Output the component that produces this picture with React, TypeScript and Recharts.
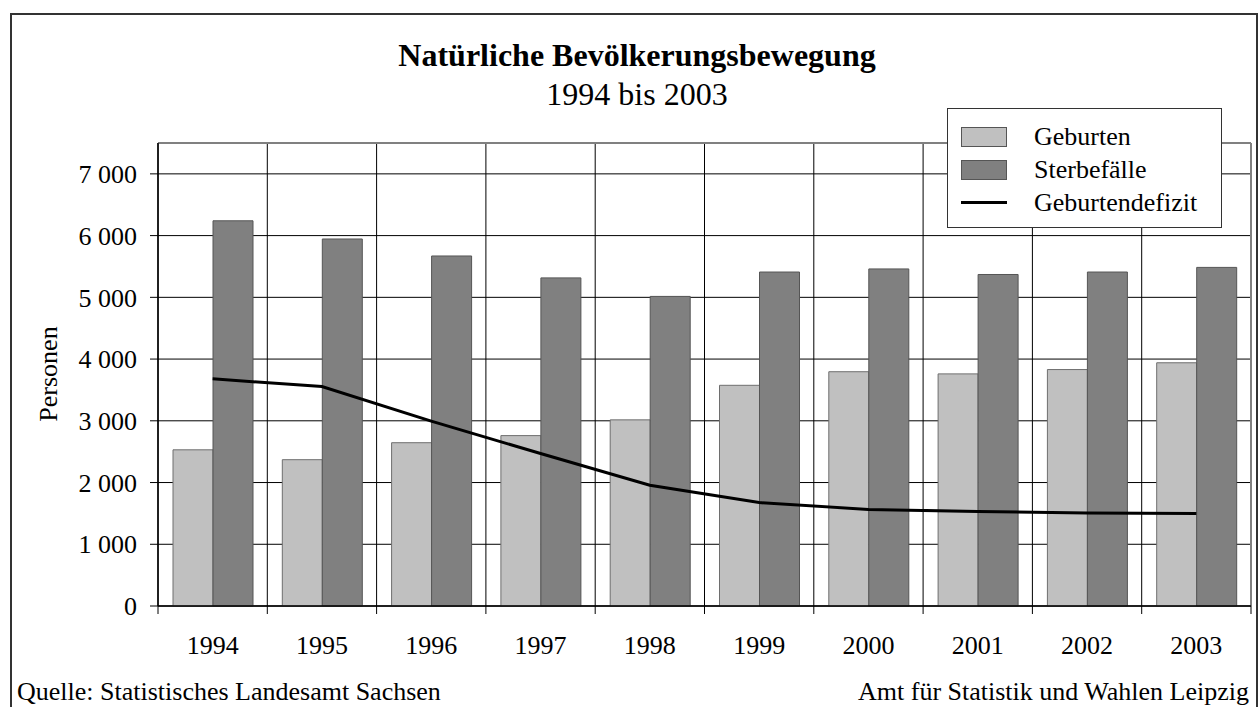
import React from "react";
import {
  ComposedChart,
  Bar,
  Line,
  XAxis,
  YAxis,
  CartesianGrid,
  Legend,
  ReferenceLine,
} from "recharts";

const years = ["1994", "1995", "1996", "1997", "1998", "1999", "2000", "2001", "2002", "2003"];
const geburten = [2530, 2370, 2645, 2760, 3015, 3575, 3795, 3760, 3830, 3940];
const sterbefaelle = [6240, 5945, 5670, 5315, 5015, 5410, 5460, 5370, 5410, 5485];
const defizit = [3680, 3555, 2995, 2470, 1955, 1675, 1565, 1530, 1505, 1500];
const yTicks = [0, 1000, 2000, 3000, 4000, 5000, 6000, 7000];

const data = years.map((year, i) => ({
  year,
  geburten: geburten[i],
  sterbefaelle: sterbefaelle[i],
  defizit: defizit[i],
}));

const FONT = '"Liberation Serif", "Times New Roman", serif';
const W = 1260;
const H = 707;
const PLOT_LEFT = 158;
const PLOT_RIGHT = 1251;
const PLOT_TOP = 143;
const PLOT_BOTTOM = 606;
const PLOT_W = PLOT_RIGHT - PLOT_LEFT;
const BAND = PLOT_W / years.length;

const LIGHT = "#c0c0c0";
const DARK = "#808080";

// "7 000" style, space as thousands separator
const fmt = (v: number) =>
  v >= 1000 ? `${Math.floor(v / 1000)} ${String(v % 1000).padStart(3, "0")}` : String(v);

function XTick(props: any) {
  const { x, y, payload, index } = props;
  const axisY = y - 30; // tickSize + tickMargin
  const left = x - BAND / 2;
  return (
    <g>
      <line x1={left} y1={axisY} x2={left} y2={axisY + 8} stroke="#000" />
      {index === years.length - 1 && (
        <line x1={x + BAND / 2} y1={axisY} x2={x + BAND / 2} y2={axisY + 8} stroke="#000" />
      )}
      <text x={x} y={axisY + 48} textAnchor="middle" fontSize={26} fontFamily={FONT} fill="#000">
        {payload.value}
      </text>
    </g>
  );
}

function LegendBox() {
  const rows = [
    { label: "Geburten", kind: "bar", color: LIGHT },
    { label: "Sterbefälle", kind: "bar", color: DARK },
    { label: "Geburtendefizit", kind: "line", color: "#000" },
  ];
  return (
    <div
      style={{
        width: 275,
        height: 120,
        boxSizing: "border-box",
        border: "1.5px solid #333",
        background: "#fff",
        paddingTop: 11,
        fontFamily: FONT,
        fontSize: 26,
      }}
    >
      {rows.map((r) => (
        <div key={r.label} style={{ display: "flex", alignItems: "center", height: 33 }}>
          <div style={{ width: 86, display: "flex", alignItems: "center" }}>
            {r.kind === "bar" ? (
              <div
                style={{
                  marginLeft: 13,
                  width: 44,
                  height: 18,
                  background: r.color,
                  border: "1px solid #555",
                }}
              />
            ) : (
              <div style={{ marginLeft: 13, width: 46, height: 3, background: "#000" }} />
            )}
          </div>
          <span style={{ lineHeight: "33px" }}>{r.label}</span>
        </div>
      ))}
    </div>
  );
}

export default function App() {
  return (
    <div style={{ position: "absolute", left: 0, top: 0, width: W, height: H, background: "#fff", overflow: "hidden" }}>
      <div
        style={{
          position: "absolute",
          left: 10,
          top: 13,
          width: 1248,
          height: 720,
          boxSizing: "border-box",
          border: "2px solid #333",
        }}
      />
      <svg width={W} height={H} style={{ position: "absolute", left: 0, top: 0 }}>
        <text x={637} y={66} textAnchor="middle" fontSize={32} fontWeight="bold" fontFamily={FONT}>
          Natürliche Bevölkerungsbewegung
        </text>
        <text x={637} y={105} textAnchor="middle" fontSize={32} fontFamily={FONT}>
          1994 bis 2003
        </text>
        <text
          x={57}
          y={374}
          textAnchor="middle"
          fontSize={26}
          fontFamily={FONT}
          transform="rotate(-90 57 374)"
        >
          Personen
        </text>
        <text x={17} y={700} fontSize={26} fontFamily={FONT}>
          Quelle: Statistisches Landesamt Sachsen
        </text>
        <text x={1249} y={700} textAnchor="end" fontSize={26} fontFamily={FONT}>
          Amt für Statistik und Wahlen Leipzig
        </text>
      </svg>
      <div style={{ position: "absolute", left: 0, top: 0 }}>
        <ComposedChart
          width={W}
          height={H}
          data={data}
          margin={{ top: PLOT_TOP, right: W - PLOT_RIGHT, bottom: H - PLOT_BOTTOM - 30, left: PLOT_LEFT - 80 }}
          barCategoryGap={15}
          barGap={0}
        >
          <CartesianGrid
            stroke="#000"
            strokeWidth={1}
            verticalCoordinatesGenerator={() =>
              Array.from({ length: years.length }, (_, i) => PLOT_LEFT + i * BAND)
            }
          />
          <CartesianGrid
            stroke="#808080"
            strokeWidth={2}
            horizontal={false}
            verticalCoordinatesGenerator={() => [PLOT_RIGHT]}
          />
          <XAxis
            dataKey="year"
            tickLine={false}
            tickSize={8}
            tickMargin={22}
            height={30}
            axisLine={{ stroke: "#000", strokeWidth: 1.5 }}
            tick={<XTick />}
            interval={0}
          />
          <YAxis
            width={80}
            domain={[0, 7500]}
            ticks={yTicks}
            tickFormatter={fmt}
            tickSize={8}
            tickMargin={13}
            axisLine={{ stroke: "#000", strokeWidth: 1.5 }}
            tickLine={{ stroke: "#000" }}
            tick={{ fontSize: 26, fontFamily: FONT, fill: "#000" }}
          />
          <ReferenceLine y={7500} stroke="#808080" strokeWidth={2} />
          <Bar dataKey="geburten" name="Geburten" fill={LIGHT} stroke="#6e6e6e" strokeWidth={1} isAnimationActive={false} />
          <Bar dataKey="sterbefaelle" name="Sterbefälle" fill={DARK} stroke="#555" strokeWidth={1} isAnimationActive={false} />
          <Line
            dataKey="defizit"
            name="Geburtendefizit"
            type="linear"
            stroke="#000"
            strokeWidth={3}
            dot={false}
            isAnimationActive={false}
          />
          <Legend
            layout="vertical"
            align="center"
            verticalAlign="middle"
            content={<LegendBox />}
            wrapperStyle={{ left: 947, top: 108, width: 275, height: 120 }}
          />
        </ComposedChart>
      </div>
    </div>
  );
}
